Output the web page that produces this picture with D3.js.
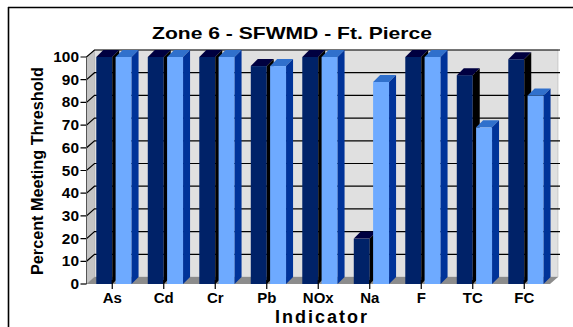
<!DOCTYPE html>
<html><head><meta charset="utf-8">
<script src="https://cdn.jsdelivr.net/npm/d3@7/dist/d3.min.js"></script>
<style>body{margin:0;background:#fff}svg{display:block}text{font-family:"Liberation Sans",Arial,sans-serif;font-weight:bold;fill:#000}</style>
</head><body>
<script>
const categories = ["As","Cd","Cr","Pb","NOx","Na","F","TC","FC"];
const series1 = [100,100,100,96,100,20,100,92,99];
const series2 = [100,100,100,96,100,89,100,69,83];
const yTicks = [0,10,20,30,40,50,60,70,80,90,100];
const titleText = "Zone 6 - SFWMD - Ft. Pierce";
const yTitle = "Percent Meeting Threshold";
const xTitle = "Indicator";

const W = 573, H = 327;
const svg = d3.select("body").append("svg").attr("width", W).attr("height", H);

const x = d3.scaleBand().domain(categories).range([86.5, 550]);
const y = d3.scaleLinear().domain([0, 100]).range([284, 57]);
const wdx = 8, wdy = -7;   // wall depth
const bdx = 7, bdy = -7;   // bar depth

function stretch(sel, f) {
  sel.each(function() {
    const len = this.getComputedTextLength();
    d3.select(this).attr("textLength", len * f).attr("lengthAdjust", "spacingAndGlyphs");
  });
}

// frame
svg.append("line").attr("x1", 8).attr("x2", W).attr("y1", 7.5).attr("y2", 7.5).attr("stroke", "#000").attr("stroke-width", 1.6);
svg.append("line").attr("x1", 8.5).attr("x2", 8.5).attr("y1", 7).attr("y2", H).attr("stroke", "#000").attr("stroke-width", 1.6);

const x0 = x.range()[0], x1 = x.range()[1];
const yb = y(0), yt = y(100);
const poly = pts => pts.map(p => p.join(",")).join(" ");

// side wall
svg.append("polygon").attr("points", poly([[x0, yb], [x0, yt], [x0 + wdx, yt + wdy], [x0 + wdx, yb + wdy]]))
  .attr("fill", "#c4c4c4").attr("stroke", "#9a9a9a").attr("stroke-width", 0.5);
// back wall
svg.append("polygon").attr("points", poly([[x0 + wdx, yb + wdy], [x0 + wdx, yt + wdy], [x1 + wdx, yt + wdy], [x1 + wdx, yb + wdy]]))
  .attr("fill", "#e0e0e0").attr("stroke", "#a8a8a8").attr("stroke-width", 0.5);
// floor
svg.append("polygon").attr("points", poly([[x0, yb], [x0 + wdx, yb + wdy], [x1 + wdx, yb + wdy], [x1, yb]]))
  .attr("fill", "#8c8c8c");

// gridlines
const grid = svg.append("g");
yTicks.filter(v => v > 0).forEach(v => {
  grid.append("polyline")
    .attr("points", poly([[x0 - 6, y(v)], [x0, y(v)], [x0 + wdx, y(v) + wdy], [x1 + wdx + 2, y(v) + wdy]]))
    .attr("fill", "none").attr("stroke", "#000").attr("stroke-width", 1.2);
});
// y axis line
svg.append("line").attr("x1", x0).attr("x2", x0).attr("y1", yt).attr("y2", yb).attr("stroke", "#555").attr("stroke-width", 1);
svg.append("line").attr("x1", x0 - 6).attr("x2", x0).attr("y1", yb).attr("y2", yb).attr("stroke", "#000").attr("stroke-width", 1.2);

// bars
const bw = x.bandwidth();
const colors = [
  { front: "#002268", top: "#000040", side: "#000000" },
  { front: "#6eaaff", top: "#3070cc", side: "#003399" }
];
const gBars = svg.append("g");
categories.forEach((c, i) => {
  [[series1[i], 0.19, 0], [series2[i], 0.565, 1]].forEach(([v, off, k]) => {
    const xl = x(c) + off * bw, xr = xl + 0.31 * bw;
    const yv = y(v);
    const col = colors[k];
    gBars.append("rect").attr("x", xl).attr("y", yv).attr("width", xr - xl).attr("height", yb - yv).attr("fill", col.front);
    gBars.append("polygon").attr("points", poly([[xl, yv], [xl + bdx, yv + bdy], [xr + bdx, yv + bdy], [xr, yv]])).attr("fill", col.top);
    gBars.append("polygon").attr("points", poly([[xr, yv], [xr + bdx, yv + bdy], [xr + bdx, yb + bdy], [xr, yb]])).attr("fill", col.side);
  });
  // category tick
  svg.append("line").attr("x1", x(c) + bw / 2).attr("x2", x(c) + bw / 2).attr("y1", yb - 4).attr("y2", yb + 5)
    .attr("stroke", "#000").attr("stroke-width", 1.2);
});

// y tick labels
const yl = svg.append("g").selectAll("text").data(yTicks).join("text")
  .attr("x", 79).attr("y", d => y(d)).attr("dy", "0.36em").attr("text-anchor", "end")
  .style("font-size", "14px").text(d => d);
stretch(yl, 1.1);

// category labels
const cl = svg.append("g").selectAll("text").data(categories).join("text")
  .attr("x", d => x(d) + bw / 2).attr("y", 303).attr("text-anchor", "middle")
  .style("font-size", "14px").text(d => d);
stretch(cl, 1.07);

// title
const tt = svg.append("text").attr("x", 292).attr("y", 39).attr("text-anchor", "middle").style("font-size", "17px").text(titleText);
tt.attr("textLength", 280).attr("lengthAdjust", "spacingAndGlyphs");

// y title
svg.append("text").attr("transform", "translate(43,171) rotate(-90)").attr("text-anchor", "middle")
  .style("font-size", "16px").attr("textLength", 208).attr("lengthAdjust", "spacingAndGlyphs").text(yTitle);

// x title
svg.append("text").attr("x", 322).attr("y", 323).attr("text-anchor", "middle")
  .style("font-size", "18px").style("letter-spacing", "2px").text(xTitle);
</script>
</body></html>
